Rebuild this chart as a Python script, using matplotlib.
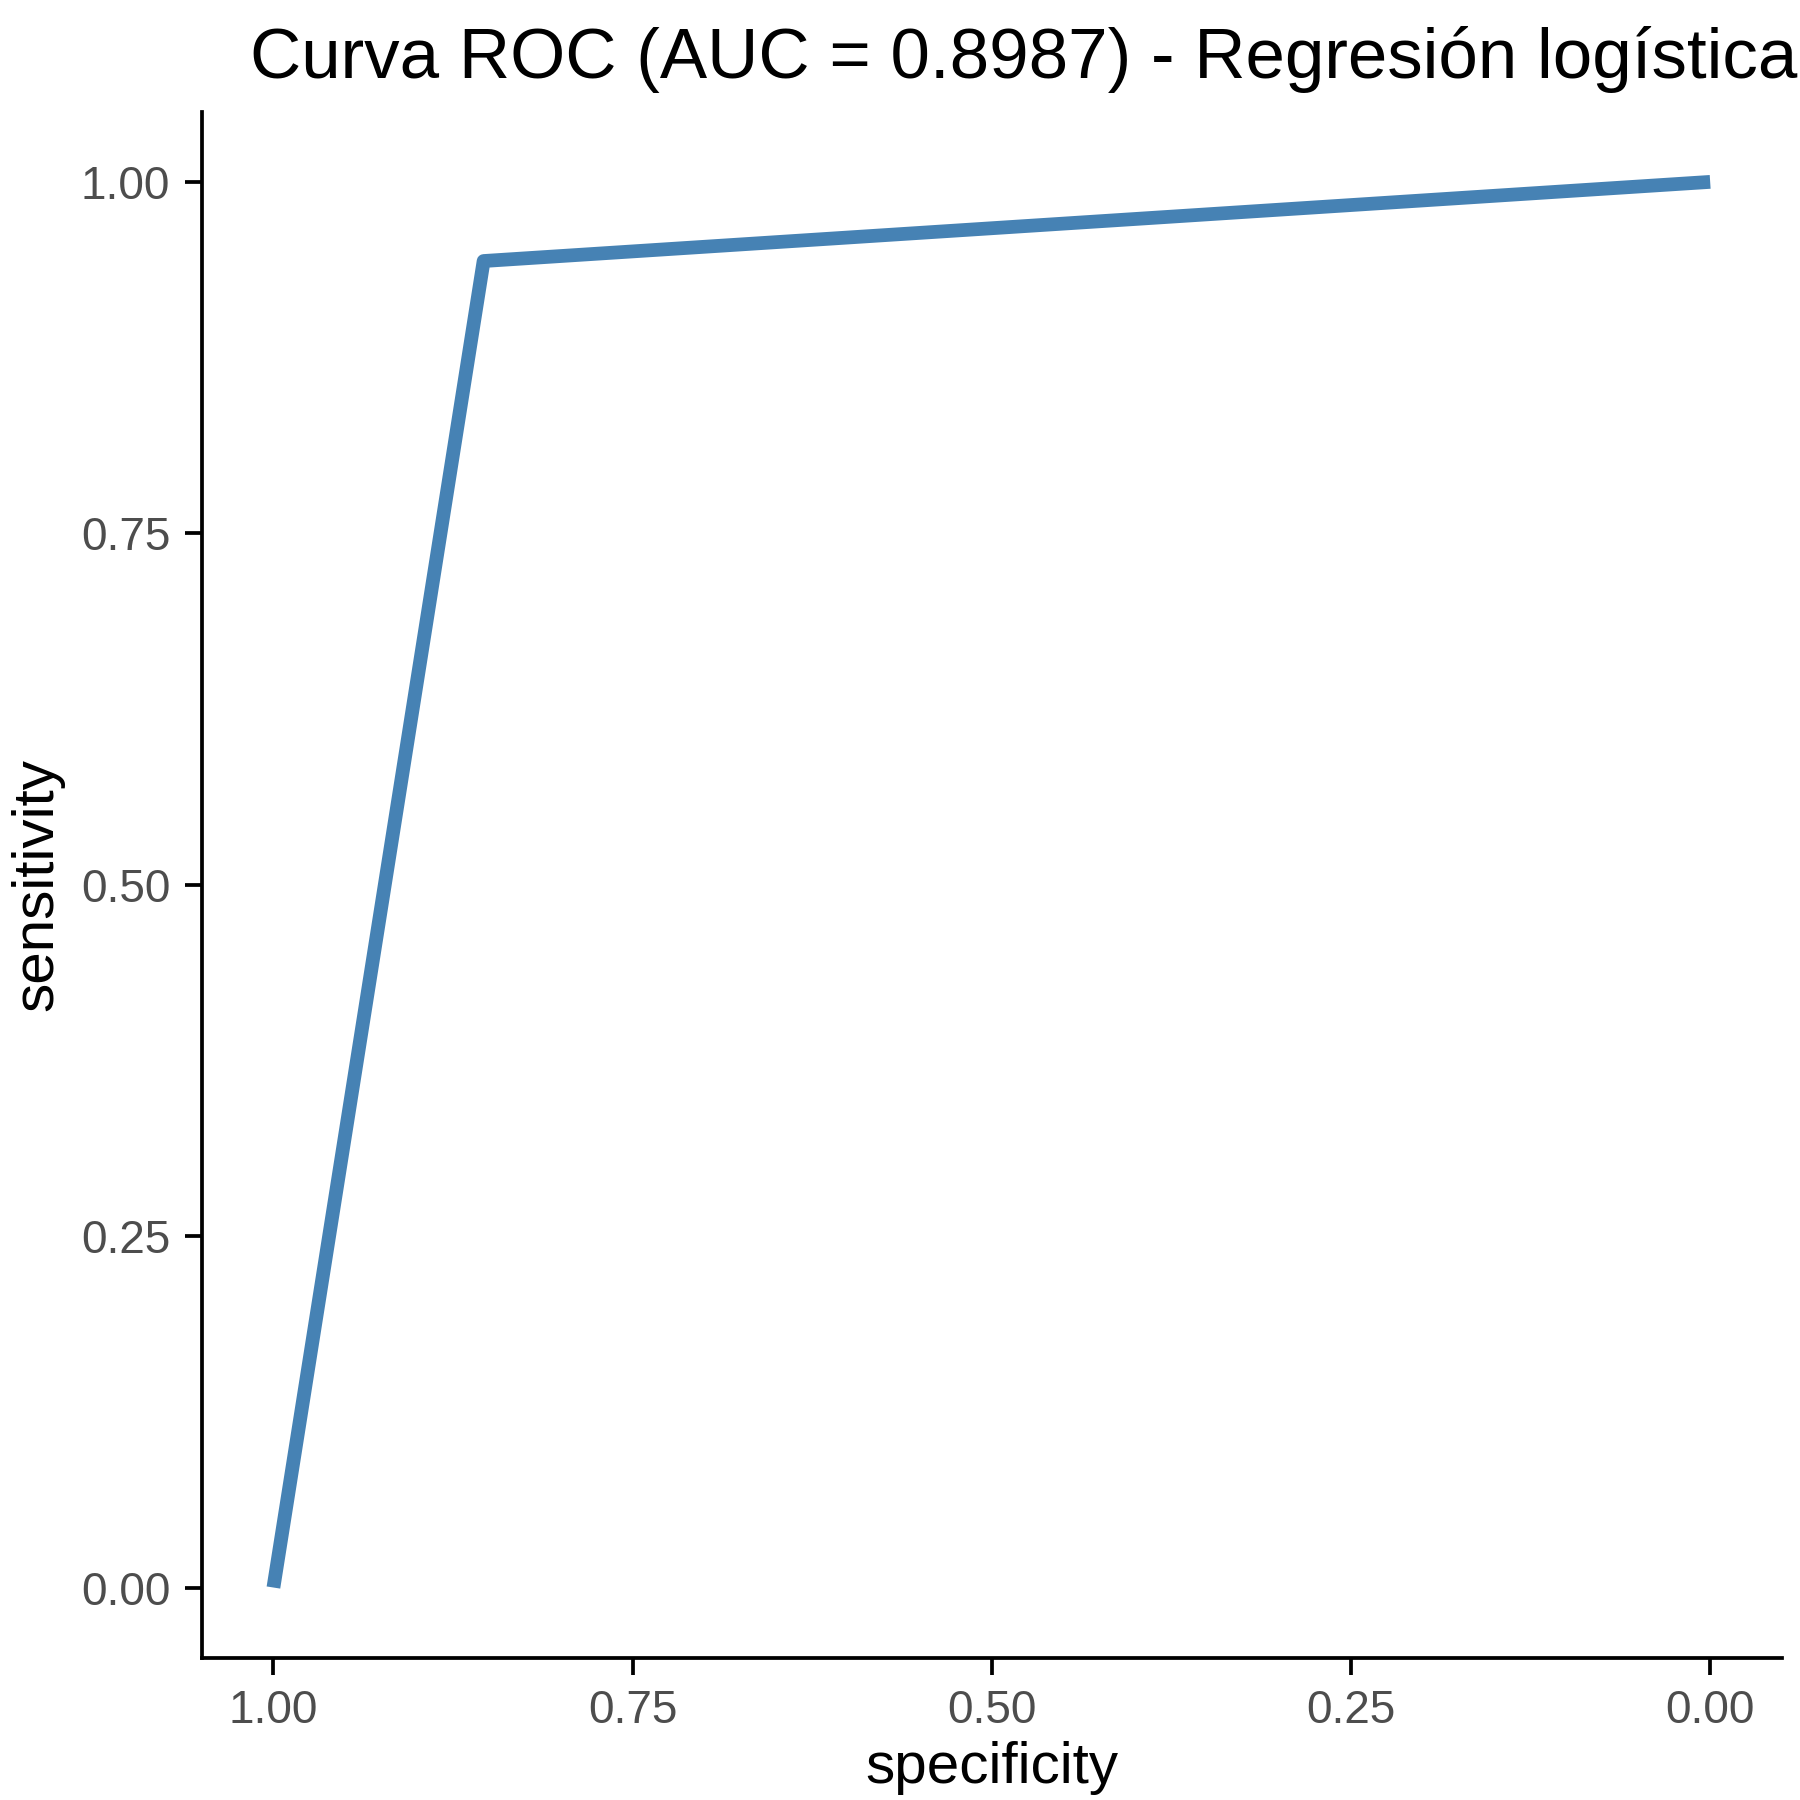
import matplotlib
matplotlib.use("Agg")
import matplotlib.pyplot as plt

specificity = [1.0, 0.8537, 0.0]
sensitivity = [0.0, 0.9437, 1.0]
ticks = [1.00, 0.75, 0.50, 0.25, 0.00]
tick_labels = ["1.00", "0.75", "0.50", "0.25", "0.00"]

plt.rcParams['font.family'] = ['Liberation Sans', 'DejaVu Sans']
fig = plt.figure(figsize=(6, 6), dpi=300)
ax = fig.add_axes([0.112, 0.079, 0.878, 0.859])
ax.plot(specificity, sensitivity, color='#4682B4', lw=3.3, solid_capstyle='butt')
ax.set_xlim(1.05, -0.05)
ax.set_ylim(-0.05, 1.05)
ax.set_xticks(ticks)
ax.set_xticklabels(tick_labels)
ax.set_yticks(ticks)
ax.set_yticklabels(tick_labels)
for s in ['top', 'right']:
    ax.spines[s].set_visible(False)
for s in ['left', 'bottom']:
    ax.spines[s].set_linewidth(0.9)
ax.tick_params(labelsize=11, colors='#4D4D4D', width=0.9, length=4)
ax.tick_params(colors='black', labelcolor='#4D4D4D')
ax.set_xlabel('specificity', fontsize=14, labelpad=2)
ax.set_ylabel('sensitivity', fontsize=14, labelpad=4)
ax.set_title('Curva ROC (AUC = 0.8987) - Regresión logística', fontsize=17, pad=8, x=0.52)
fig.savefig('out.png')
